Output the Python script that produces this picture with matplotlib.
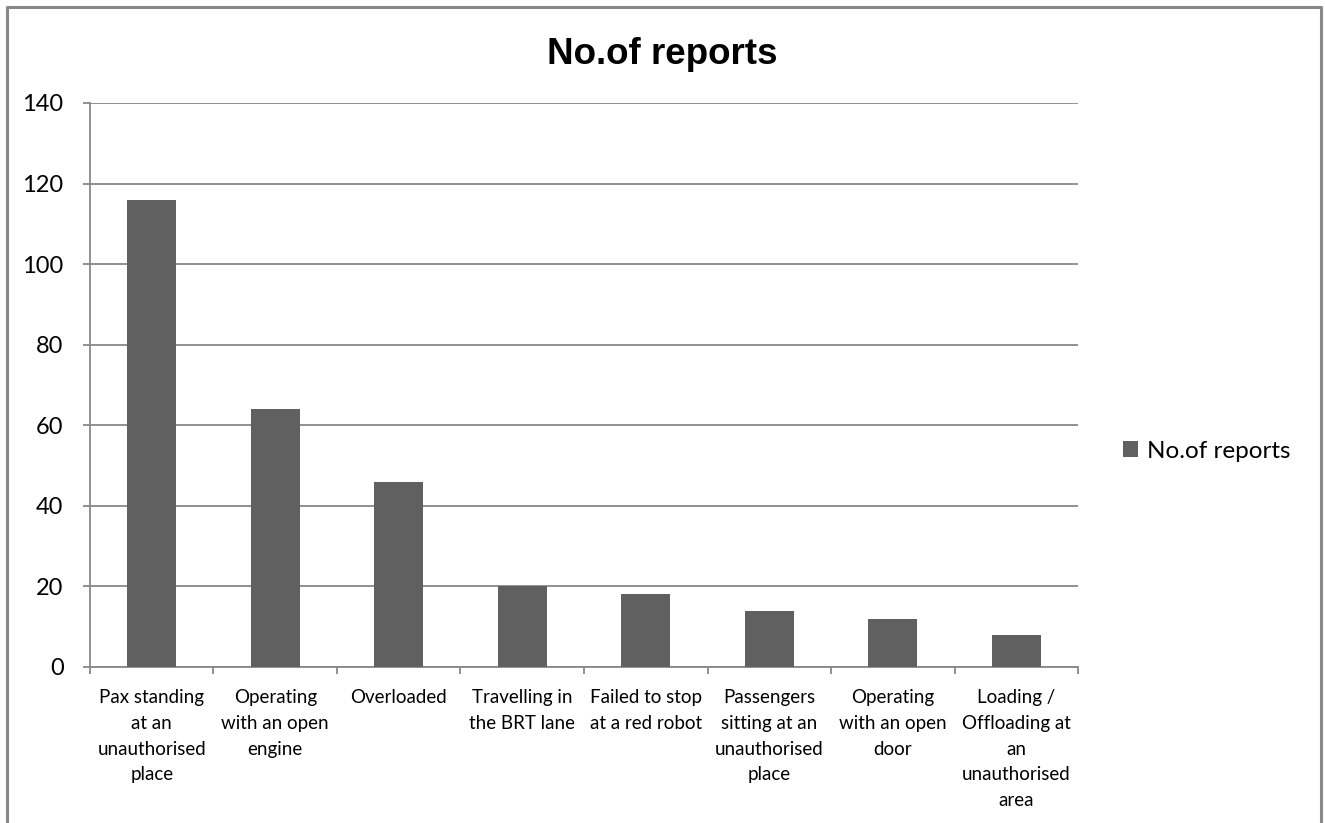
import matplotlib
matplotlib.use("Agg")
import matplotlib.pyplot as plt
from matplotlib.lines import Line2D
import numpy as np

categories = [
    "Pax standing\nat an\nunauthorised\nplace",
    "Operating\nwith an open\nengine",
    "Overloaded",
    "Travelling in\nthe BRT lane",
    "Failed to stop\nat a red robot",
    "Passengers\nsitting at an\nunauthorised\nplace",
    "Operating\nwith an open\ndoor",
    "Loading /\nOffloading at\nan\nunauthorised\narea",
]
reports = [116, 64, 46, 20, 18, 14, 12, 8]
y_ticks = [0, 20, 40, 60, 80, 100, 120, 140]

bar_color = "#606060"
line_color = "#888888"
label_font = "Lato"

fig = plt.figure(figsize=(13.25, 8.23), dpi=100)
ax = fig.add_axes([0.0679, 0.1896, 0.7457, 0.6853])

x = np.arange(len(categories))
ax.bar(x, reports, width=0.4, color=bar_color, label="No.of reports", zorder=3)

ax.set_xlim(-0.5, len(categories) - 0.5)
ax.set_ylim(0, 140)
ax.set_yticks(y_ticks)
ax.set_yticklabels([str(v) for v in y_ticks], fontsize=17, family=label_font)
ax.yaxis.grid(True, color=line_color, linewidth=1.3, zorder=0)

# labels sit under the bar centres, tick marks on the category boundaries
ax.set_xticks(x)
ax.set_xticklabels(categories, fontsize=13.5, family=label_font, linespacing=1.62, va="top")
ax.set_xticks(np.arange(-0.5, len(categories)), minor=True)
ax.tick_params(axis="x", which="major", length=0, pad=16)
ax.tick_params(axis="x", which="minor", length=5, width=1.3, color=line_color)
ax.tick_params(axis="y", length=5, width=1.3, color=line_color, pad=14)

for side in ["top", "right"]:
    ax.spines[side].set_visible(False)
for side in ["left", "bottom"]:
    ax.spines[side].set_color(line_color)
    ax.spines[side].set_linewidth(1.3)

fig.suptitle("No.of reports", x=0.5, y=0.955, fontsize=26.5, fontweight="bold",
             family="Liberation Sans")

fig.legend(loc="center left", bbox_to_anchor=(0.838, 0.452), frameon=False,
           prop={"family": label_font, "size": 17.5},
           handlelength=0.65, handleheight=0.65, handletextpad=0.35, borderpad=0)

# chart area frame (open at the bottom)
fx0, fx1, fy1 = 7 / 1325, 1321 / 1325, 1 - 7 / 823
frame = Line2D([fx0, fx0, fx1, fx1], [-0.01, fy1, fy1, -0.01],
               transform=fig.transFigure, color=line_color, linewidth=2.2)
fig.add_artist(frame)

fig.savefig("out.png", dpi=100, facecolor="white")
